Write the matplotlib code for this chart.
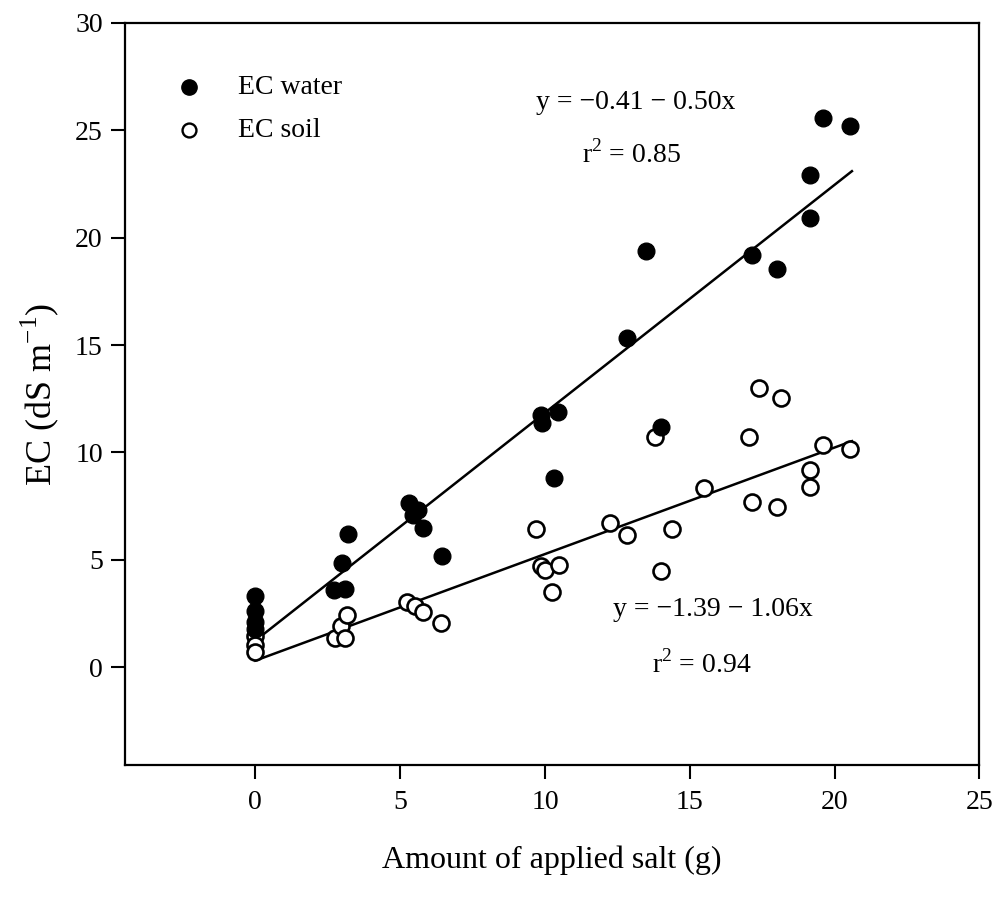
import matplotlib.pyplot as plt

# EC of drainage water vs. applied salt
water_x = [0, 0, 0, 0, 2.7, 3.0, 3.1, 3.2, 5.3, 5.45, 5.6, 5.8, 6.45,
           9.85, 9.9, 10.3, 10.45, 12.85, 14.0, 13.5, 17.15, 18.0, 19.15,
           19.15, 19.6, 20.55]
water_y = [3.3, 2.6, 2.1, 1.8, 3.6, 4.85, 3.65, 6.2, 7.65, 7.1, 7.3, 6.5, 5.2,
           11.75, 11.35, 8.8, 11.9, 15.35, 11.2, 19.4, 19.2, 18.55, 22.9,
           20.9, 25.55, 25.2]

# EC of soil vs. applied salt
soil_x = [0, 0, 0, 2.75, 2.95, 3.1, 3.15, 5.25, 5.5, 5.8, 6.4,
          9.7, 9.85, 10.0, 10.25, 10.5, 12.25, 12.85, 13.8, 14.0, 14.4,
          15.5, 17.05, 17.15, 17.4, 18.0, 18.15, 19.15, 19.15, 19.6, 20.55]
soil_y = [1.45, 1.05, 0.7, 1.35, 1.9, 1.35, 2.45, 3.05, 2.85, 2.55, 2.05,
          6.45, 4.7, 4.55, 3.5, 4.75, 6.7, 6.15, 10.7, 4.5, 6.45,
          8.35, 10.7, 7.7, 13.0, 7.45, 12.55, 9.2, 8.4, 10.35, 10.15]

# fitted lines as drawn (intercept, slope) and x range
water_fit = (1.24, 1.061)
soil_fit = (0.31, 0.496)
fit_x = [0, 20.6]

plt.rcParams['font.family'] = ['Liberation Serif', 'DejaVu Serif']
plt.rcParams['mathtext.fontset'] = 'custom'
plt.rcParams['mathtext.rm'] = 'Liberation Serif'

fig = plt.figure(figsize=(9.98, 9.05), dpi=100)
ax = fig.add_axes([0.1253, 0.1547, 0.856, 0.82])

for (b, m) in (water_fit, soil_fit):
    ax.plot(fit_x, [b + m * x for x in fit_x], color='black', lw=1.8, zorder=2)

ax.plot(soil_x, soil_y, 'o', ms=11.5, mfc='white', mec='black', mew=1.9,
        zorder=3, label='EC soil')
ax.plot(water_x, water_y, 'o', ms=12, mfc='black', mec='black',
        zorder=4, label='EC water')

ax.set_xlim(-4.5, 25)
ax.set_ylim(-4.55, 30)
ax.set_xticks([0, 5, 10, 15, 20, 25])
ax.set_yticks([0, 5, 10, 15, 20, 25, 30])
ax.tick_params(direction='out', length=10, width=1.5, labelsize=20, pad=6)
ax.tick_params(axis='x', pad=8)
for s in ax.spines.values():
    s.set_linewidth(1.6)

ax.set_xlabel('Amount of applied salt (g)', fontsize=23, labelpad=22)
ax.set_ylabel('EC (dS m$^{-1}$)', fontsize=26, labelpad=10)

# legend drawn by hand to keep the reference order
ax.plot(-2.3, 27.0, 'o', ms=11, mfc='black', mec='black', clip_on=False)
ax.plot(-2.3, 25.0, 'o', ms=10, mfc='white', mec='black', mew=1.7, clip_on=False)
ax.text(-0.6, 27.0, 'EC water', fontsize=20, va='center')
ax.text(-0.6, 25.0, 'EC soil', fontsize=20, va='center')

ax.text(13.15, 26.3, 'y = \u22120.41 \u2212 0.50x', fontsize=20, ha='center', va='center')
ax.text(13.0, 23.9, 'r$^2$ = 0.85', fontsize=20, ha='center', va='center')
ax.text(15.8, 2.7, 'y = \u22121.39 \u2212 1.06x', fontsize=20, ha='center', va='center')
ax.text(15.4, 0.15, 'r$^2$ = 0.94', fontsize=20, ha='center', va='center')

fig.savefig('out.png', dpi=100)
